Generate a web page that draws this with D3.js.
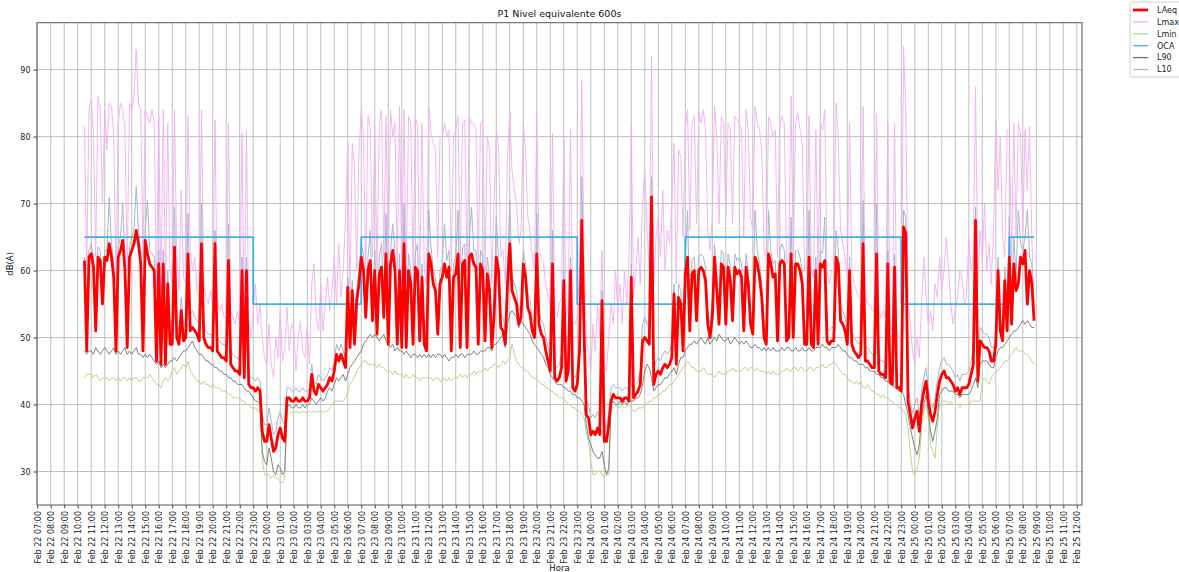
<!DOCTYPE html>
<html>
<head>
<meta charset="utf-8">
<script src="https://cdn.jsdelivr.net/npm/d3@7"></script>
<style>
  body { margin: 0; background: #fff; }
  svg { display: block; font-family: "DejaVu Sans", sans-serif; }
</style>
</head>
<body>
<svg id="chart" width="1179" height="572"></svg>
<script>
// 600 s samples, first one Feb 22 10:30, last one Feb 25 08:50
var startTime = "2019-02-22 10:30";

var laeq = [
  61.5, 48, 62,
  62.5, 60.5, 51, 62, 61.5, 55,  62, 61.5, 64, 62, 59, 48,
  62, 63, 64.5, 60, 48.5, 62,  63, 64, 66, 64, 61, 48,
  64.5, 62.5, 61, 60.5, 60, 46.5,  61, 46, 61, 46, 58, 49,
  49, 63.5, 50, 49, 54, 49.5,  50, 62.5, 51, 51.5, 51, 50.5,
  49.5, 64, 50, 49, 48.5, 48.5,  48, 64, 48, 47.5, 47, 47,
  46.5, 61.5, 46, 45.5, 45, 45,  44.5, 60, 44, 60, 43, 42.5,
  42.5, 42, 42.5, 42, 36, 34.5,
  34.5, 37, 35, 33, 33.5, 35.5,  36.5, 35, 34.5, 41, 41, 40.5,
  40.5, 41, 40.5, 40.5, 41, 40.5,  40.5, 41, 44.5, 42, 41.5, 43,
  42.5, 42, 42.5, 43, 44, 43.5,  45, 47.5, 46.5, 47.5, 46.5, 45.5,
  57.5, 48.5, 57, 49, 55.5, 58,  62, 60, 53, 60, 61.5, 52.5,
  60, 50.5, 59.5, 60.5, 53, 62.5,  49, 61, 63, 60, 49, 60,
  48.5, 64, 48.5, 60, 58, 49,  60.5, 60, 49.5, 59, 49, 48,
  62.5, 61, 58, 57, 50.5, 58,  59, 61, 59, 60.5, 48, 59,
  59.5, 62.5, 48.5, 61, 61.5, 48.5,  62, 62.5, 61, 60.5, 49, 61,
  60, 49.5, 59.5, 57, 48.5, 53,  62, 60, 51.5, 51, 49, 58,
  64, 57, 56, 55, 52, 53,  61, 59, 54.5, 53.5, 51, 50,
  62.5, 52, 50.5, 50, 48, 46.5,  45, 61, 44, 43.5, 44, 45.5,
  58.5, 43.5, 45, 60, 42.5, 42,  43, 48, 67.5, 51, 38.5, 38,
  35.5, 36, 35.5, 36.5, 35.5, 55.5,  34.5, 34.5, 37, 40.5, 41.5, 41,
  41, 41, 40.5, 41, 41, 40.5,  59, 41, 41.5, 42, 43, 49.5,
  50, 49.5, 49, 71, 43, 44.5,  45, 44.5, 45.5, 46, 45.5, 46,
  47, 56.5, 46, 56, 55, 48,  59.5, 62, 51, 59.5, 60, 52.5,
  60, 60.5, 60, 58.5, 52, 50,  53, 62, 57, 52, 61, 60.5,
  52, 60.5, 58.5, 52.5, 60.5, 59.5,  60, 59, 51, 60.5, 58, 52,
  50.5, 62, 61, 59, 56, 50,  49, 62.5, 61, 59, 59.5, 49.5,
  61, 61.5, 61, 49.5, 50, 62.5,  50, 61, 61, 60, 58, 49,
  49, 62, 49, 48.5, 60, 49,  61, 60.5, 61.5, 49.5, 49, 49.5,
  49.5, 62, 61, 52.5, 52, 51,  49, 60, 49, 48, 47.5, 47,
  47.5, 64, 46.5, 46.5, 46, 45.5,  45.5, 62.5, 45, 44.5, 44.5, 44,
  61, 43.5, 43, 60.5, 42.5, 42.5,  42, 66.5, 65.5, 40.5, 38.5, 36.5,
  38, 39, 36, 40, 42, 43.5,  40.5, 38.5, 37.5, 39, 41.5, 43.5,
  44.5, 45, 44, 44, 43.5, 43,  42, 42.5, 41.5, 42.5, 42.5, 42.5,
  43, 44.5, 46, 67.5, 43.5, 49.5,  49, 48.5, 48.5, 48, 46.5, 46.5,
  49, 60, 51, 49.5, 58.5, 51,  62, 52, 61, 57, 58, 62,
  61, 63, 55, 60, 58, 52.5
];

var lmax = [
  81.5, 60, 84,
  85.5, 80, 62, 86, 84, 70,  84, 78, 85, 84.5, 80, 58,
  82, 85, 84, 81, 60, 85,  84, 86, 93, 85, 84, 62,
  84, 83, 82, 84, 82, 57,  83, 56, 84, 57, 82, 60,
  58, 84, 62, 57, 72, 59,  58, 83, 63, 60, 62, 57,
  56, 84, 58, 56, 55, 57,  55, 82.5, 56, 54, 55, 53,
  53, 82, 54, 53, 52, 54,  52, 80.5, 51, 81, 52, 50,
  54, 58, 52, 55, 50, 47,
  46, 52, 46, 44, 50, 47,  54, 46.5, 48, 54.5, 48, 52,
  51, 45, 50, 52.5, 48, 47,  52, 46, 58, 61, 53, 51,
  58, 51, 55, 59, 54, 57,  62, 55, 64, 56, 60, 68,
  79, 56, 79, 75, 60, 78,  84, 80, 60, 83, 81.5, 62,
  81.5, 60, 82, 84, 62, 83,  60, 84, 80, 82, 60, 84.5,
  58, 84, 59, 83, 82, 60,  83, 81.5, 59, 82, 60, 58,
  84.5, 80.5, 79, 78, 62, 80,  80, 82, 80, 81, 60, 80,
  81, 83, 61, 82, 82.5, 60,  83, 82, 82, 81, 60, 82,
  82.5, 60, 80, 78, 58, 70,  81, 79, 62, 63, 58, 77,
  83.5, 75, 72, 70, 64, 66,  82, 78, 68, 66, 62, 60,
  83.5, 63, 62, 61, 58, 56,  55, 80.5, 54, 53, 55, 56,
  79.5, 53, 55, 81, 52, 52,  53, 60, 88.5, 62, 50, 48,
  45, 52, 48, 55, 50, 63,  46, 45, 50, 55, 52, 60,
  54, 58, 52, 60, 55, 62,  82, 56, 60, 65, 58, 70,
  75, 66, 60, 92, 58, 65,  68, 62, 72, 60, 66, 64,
  70, 79, 58, 78, 77, 65,  81, 84, 66, 82, 83, 67,
  83.5, 82, 84, 81, 66, 63,  68, 84.5, 80, 67, 83, 82,
  68, 82, 81, 67, 83, 82.5,  82, 81, 65, 84, 81, 68,
  66, 84.5, 82, 81, 78, 63,  62, 83, 82, 80, 81, 62,
  82, 83, 82, 61, 62, 86,  62, 82, 83.5, 81, 79, 60,
  60, 83, 60, 59, 81, 60,  82, 81, 84, 60, 58, 60,
  60, 85, 80, 66, 64, 62,  59, 82, 60, 58, 57, 56,
  56, 84.5, 56, 55, 55, 54,  54, 83.5, 54, 53, 54, 53,
  82, 52, 51, 82, 51, 50,  50, 93.5, 84, 56, 52, 48,
  46, 50, 47, 55, 62, 56,  52, 54, 51, 58, 56, 62,
  57, 60, 65, 60, 55, 52,  54, 56, 60, 59, 55, 56,
  65, 60, 62, 87.5, 58, 66,  62, 70, 60, 64, 58, 66,
  82.5, 72, 80, 65, 62, 81,  81, 62, 82, 65, 82, 80.5,
  66, 81, 72, 81.5, 65, 55
];

var lmin = [
  44, 44.5, 44.5,
  44.5, 44, 44.5, 44, 43.5, 44,  44, 44, 43.5, 44, 44, 43.5,
  44, 43.5, 44, 44, 43.5, 44,  43.5, 44, 44, 43.5, 43.5, 44,
  44, 44, 44.5, 44, 43.5, 43,  43, 42.5, 43.5, 44, 43.5, 44,
  45, 45.5, 44.5, 45, 45.5, 46,  45.5, 46.5, 45, 44.5, 44, 43.5,
  43.5, 43, 43.5, 43, 43, 42.5,  43, 42.5, 42.5, 42.5, 42, 42,
  42, 41.5, 41.5, 41, 41, 41,  41, 40.5, 40.5, 40, 40, 39.5,
  39.5, 39.5, 39, 39, 32, 29.5,
  29.5, 29.5, 29, 29.5, 29, 29,  28.5, 28.3, 29, 38.5, 38.7, 38.8,
  38.8, 39, 38.8, 38.8, 39, 38.8,  38.8, 39, 38.8, 39, 38.8, 39,
  39, 38.8, 39, 39, 39.5, 40,  40.5, 40.5, 40.5, 40.5, 40.5, 41,
  42, 43, 43.5, 44, 45, 45.5,  46, 46.5, 46.5, 46, 46, 46,
  46, 45.5, 46, 45.5, 45.5, 45,  45, 45, 44.5, 45, 44.5, 44.5,
  44.5, 44, 44.5, 44, 44, 44.5,  44, 44, 43.5, 44, 44, 44,
  44, 44, 43.5, 44, 44, 43.5,  43.5, 44, 43.5, 44, 43.5, 44,
  44, 44, 44.5, 44, 44.5, 44,  44.5, 44.5, 45, 44.5, 45, 45,
  45, 45.5, 45, 45.5, 45.5, 46,  46, 45.5, 46, 46.5, 46, 46.5,
  47, 49, 47.5, 46.5, 46, 45.5,  45.5, 45, 45, 44.5, 44, 44,
  43.5, 43.5, 43, 43, 42.5, 42.5,  42, 42, 41.5, 41.5, 41, 41,
  41, 40.5, 40, 40, 39.5, 39.5,  39, 39, 38.5, 38, 36, 34.5,
  31.5, 29.5, 29.5, 30, 30, 29.5,  29.2, 29.5, 29.5, 39.5, 39.5, 39.8,
  39.5, 39.5, 39.8, 39.5, 39.8, 40,  39.5, 39, 39, 39.5, 39.5, 39.5,
  40, 40, 40.5, 40.5, 41, 41,  41.5, 41.5, 42, 42, 42.5, 43,
  43, 43.5, 44, 44.5, 45, 45.5,  46, 46.5, 46, 45.5, 45.5, 45,
  45, 45, 45.5, 45, 44.5, 44.5,  44.5, 44, 44.5, 45, 44.5, 44.5,
  44.5, 45, 45, 45.5, 45, 45,  45, 45, 45.5, 45.5, 45, 45.5,
  45.5, 45, 45.5, 45, 45, 45,  44.5, 45, 44.5, 45, 44.5, 44.5,
  44.5, 45, 45, 45.5, 45, 45,  45.5, 45.5, 45, 45.5, 45.5, 45,
  45, 45.5, 45.5, 45, 45.5, 45.5,  45.5, 46, 45.5, 45.5, 46, 46,
  46.5, 46, 45.5, 45, 44.5, 44.5,  44, 43.5, 43.5, 43, 43.5, 43,
  43.5, 42.5, 42.5, 43, 42.5, 42,  42, 41.5, 41.5, 41, 41.5, 41,
  41, 40.5, 40.5, 40, 40, 39.5,  39.5, 39, 38.5, 36.5, 33, 30,
  29.5, 30.5, 32, 36.5, 39, 40,  38, 34, 33, 32, 36.5, 40,
  40.5, 40.5, 40.5, 40, 40.5, 40,  40, 40, 39.5, 40, 40, 40,
  40, 40.5, 40.5, 40.5, 40.5, 40.5,  43.5, 44, 43.5, 43, 44, 44.5,
  45, 45, 45.5, 46, 46.5, 46.5,  47, 47.5, 48, 48.5, 48, 48,
  48, 47.5, 47.5, 47, 46.5, 46
];

var l90 = [
  48, 47.5, 48,
  48, 47.5, 48.5, 48, 47.5, 48,  48.5, 48, 47.5, 48, 48.5, 47.5,
  48, 47.5, 48, 48.5, 47.5, 48,  47.5, 48, 48.5, 47.5, 47.5, 47,
  47.5, 47, 47.5, 47, 46.5, 46,  46.5, 45.5, 46, 45.5, 46, 46.5,
  46.5, 47, 46.5, 47, 47.5, 48,  48, 48.5, 49, 49.5, 48.5, 48,
  47.5, 47.5, 47, 46.5, 46.5, 46,  46, 45.5, 45.5, 45, 45, 44.5,
  44.5, 44, 44, 43.5, 43.5, 43,  43, 43, 42.5, 42, 42, 41.5,
  41, 40.5, 40.5, 40, 33, 31.5,
  31, 33.5, 32, 30, 29.5, 31,  30.5, 29.5, 30, 39.5, 40, 39.5,
  39.5, 40, 39.5, 39.5, 40, 39.5,  40, 40, 41, 40.5, 40, 40.5,
  41, 40.5, 41, 42, 42.5, 42,  43, 44, 43.5, 44, 44.5, 43.5,
  44.5, 45.5, 46, 46.5, 47, 47.5,  48, 49, 49.5, 50, 50.5, 50,
  50.5, 50, 49.5, 50, 50.5, 49.5,  49, 48.5, 49, 48, 48.5, 48,
  48, 47.5, 48, 47.5, 47, 47.5,  47.5, 47, 47.5, 47, 47.5, 47,
  47.5, 47, 47.5, 47, 47.5, 47.5,  47, 47.5, 47, 46.5, 47, 47,
  47.5, 47, 47.5, 47.5, 47, 47.5,  47.5, 47.5, 48, 47.5, 47.5, 48,
  48, 48, 48.5, 48.5, 48, 49,  49, 49.5, 50, 50.5, 48.5, 52,
  53.5, 54, 53.5, 53, 51.5, 52.5,  52, 51.5, 51, 50.5, 49.5, 49,
  48.5, 48, 47.5, 47, 46, 45.5,  44.5, 44, 43.5, 43, 43, 43,
  42.5, 42.5, 42, 42, 41.5, 41.5,  41, 41, 40.5, 40, 37, 35,
  34, 33, 32.5, 32, 32, 33,  31, 29.5, 30.5, 40, 40.5, 40,
  40, 40.5, 40, 40.5, 40, 40.5,  40.5, 40.5, 41, 41, 41.5, 43,
  45, 46, 45.5, 44, 42, 42.5,  43, 43, 43.5, 44, 44, 44.5,
  45, 45.5, 44.5, 46, 47, 47,  48, 48.5, 49, 49, 49.5, 49,
  49.5, 50, 49.5, 49, 50, 49,  49.5, 50, 49.5, 50.5, 50, 49.5,
  49.5, 50, 49, 49.5, 50, 49.5,  49, 49.5, 49, 49.5, 49, 48.5,
  48.5, 49, 48.5, 48.5, 48, 48.5,  48, 48.5, 48, 48.5, 48, 48,
  48, 48.5, 48, 48.5, 48.5, 48,  48, 48.5, 48, 48, 48.5, 48,
  48, 48.5, 48, 48, 48.5, 48.5,  48.5, 49, 48.5, 48.5, 48, 48.5,
  48.5, 48.5, 49, 48.5, 48, 48,  47.5, 47, 47, 46.5, 46.5, 46,
  46, 46, 45.5, 45.5, 45, 45,  45, 44.5, 44.5, 44, 44, 43.5,
  43.5, 43, 43, 42.5, 42.5, 42,  42, 41.5, 40, 38.5, 36.5, 35,
  33.5, 32.5, 34, 38, 40, 41.5,  39, 36, 34.5, 36, 38, 41.5,
  42, 42.5, 42.5, 42, 42, 42,  41.5, 41.5, 41, 41.5, 41.5, 41.5,
  41.5, 42, 43, 44, 42.5, 46,  46.5, 46.5, 46.5, 46, 45.5, 45.5,
  47, 48, 48.5, 48.5, 49, 49.5,  50, 50.5, 51, 51, 51.5, 52,
  52.5, 52, 52.5, 52, 51.5, 51.5
];

var l10 = [
  62, 52, 63,
  64, 62, 53, 63.5, 63, 57,  63, 63, 71, 64, 61, 51,
  63.5, 65, 70, 62, 51, 63.5,  65, 66, 72.5, 66, 63, 51,
  66, 70.5, 63, 62.5, 62, 49.5,  63, 49, 63, 49, 60, 51.5,
  51, 69.5, 52.5, 51, 56, 52,  52, 68.5, 53.5, 54, 53, 52.5,
  52, 70, 52.5, 51, 50.5, 50.5,  50, 66, 50, 49.5, 49, 49,
  48.5, 67, 48, 47.5, 47, 47,  46.5, 62, 46, 62, 44.5, 44,
  44, 43.5, 44, 43.5, 38.5, 37,
  37, 39.5, 37.5, 35.5, 36, 38,  39, 37.5, 37, 42.5, 42.5, 42,
  42, 42.5, 42, 42, 42.5, 42,  42, 42.5, 46, 43.5, 43, 44.5,
  44, 43.5, 44, 44.5, 45.5, 45,  46.5, 49, 48, 49, 48, 47,
  59, 50, 58.5, 51, 57.5, 60,  64, 62.5, 55, 62, 66, 54.5,
  63, 52.5, 62, 64, 55, 68.5,  51, 63, 67, 62.5, 51, 62.5,
  50.5, 70, 50.5, 62.5, 60, 51,  62.5, 64, 51.5, 61, 51, 50,
  69, 63.5, 60, 59, 52.5, 60,  61, 67, 61.5, 63, 50, 61,
  62, 69, 50.5, 63.5, 64, 50.5,  64.5, 69.5, 63, 63, 51, 63,
  62, 51.5, 62, 59, 50.5, 55,  68, 62, 53.5, 53, 51, 60,
  70.5, 59, 58, 57, 54, 55,  63, 61, 56.5, 55.5, 53, 52,
  68.5, 54, 52.5, 52, 50, 48.5,  47, 66, 46, 45.5, 46, 47.5,
  60, 45.5, 47, 62, 44.5, 44,  45, 50, 74, 53, 40.5, 40,
  38, 38.5, 38, 39, 38, 57,  37, 36.5, 39, 42.5, 43, 42.5,
  42.5, 42.5, 42, 42.5, 42.5, 42,  61, 42.5, 43, 43.5, 45, 52,
  53, 52, 51.5, 74, 45, 46.5,  47, 46.5, 47.5, 48, 47.5, 48,
  49, 58, 48, 58, 57, 50,  61.5, 69, 53, 61.5, 62, 54.5,
  62, 62.5, 62, 60.5, 54, 52,  55, 64, 59, 54, 63, 62.5,
  54, 62.5, 60.5, 54.5, 62.5, 61.5,  62, 61, 53, 62.5, 60, 54,
  52.5, 69, 63, 61, 58, 52,  51, 69, 63, 61, 61.5, 51.5,
  63, 64, 63, 51.5, 52, 68,  52, 63, 63, 62, 60, 51,
  51, 69, 51, 50.5, 62, 51,  63, 62.5, 68, 51.5, 51, 51.5,
  51.5, 66, 63, 54.5, 54, 53,  51, 62, 51, 50, 49.5, 49,
  49.5, 70.5, 48.5, 48.5, 48, 47.5,  47.5, 70, 47, 46.5, 46.5, 46,
  63, 45.5, 45, 62.5, 44.5, 44.5,  44, 69, 68, 42.5, 40.5, 38.5,
  40, 41, 38, 42, 44, 45.5,  42.5, 40.5, 39.5, 41, 43.5, 45.5,
  46.5, 47, 46, 46, 45.5, 45,  44, 44.5, 43.5, 44.5, 44.5, 44.5,
  45, 46.5, 48, 69.5, 45.5, 51.5,  51, 50.5, 50.5, 50, 48.5, 48.5,
  51, 62, 53, 51.5, 60.5, 53,  68, 54, 65, 59, 69, 64,
  63, 65, 69, 62, 61, 54.5
];

// OCA limit: level in force from each time on (day 65, night 55)
var ocaTimes = ["2019-02-22 10:30", "2019-02-22 23:00", "2019-02-23 07:00",
                "2019-02-23 23:00", "2019-02-24 07:00", "2019-02-24 23:00",
                "2019-02-25 07:00", "2019-02-25 08:50"];
var ocaValues = [65, 55, 65, 55, 65, 55, 65, 65];

var yTicks = [30, 40, 50, 60, 70, 80, 90];
var xRange = ["2019-02-22 06:59", "2019-02-25 12:23"];

///////////////////////////////////////////////////////////////////////////////

var parse = d3.timeParse("%Y-%m-%d %H:%M");
var t0 = parse(startTime);
var sampleTime = function (i) { return new Date(+t0 + i * 600000); };

var svg = d3.select("#chart");
var plotLeft = 37, plotRight = 1082, plotTop = 22.7, plotBottom = 505;

var x = d3.scaleTime().domain(xRange.map(parse)).range([plotLeft, plotRight]);
var y = d3.scaleLinear().domain([25, 97]).range([plotBottom, plotTop]);

var hours = d3.timeHour.range(parse("2019-02-22 07:00"), parse("2019-02-25 12:01"));

// grid
var grid = svg.append("g").attr("stroke", "#b0b0b0").attr("stroke-width", 0.8);
grid.selectAll("line.v").data(hours).enter().append("line")
  .attr("x1", function (d) { return x(d); }).attr("x2", function (d) { return x(d); })
  .attr("y1", plotTop).attr("y2", plotBottom);
grid.selectAll("line.h").data(yTicks).enter().append("line")
  .attr("x1", plotLeft).attr("x2", plotRight)
  .attr("y1", function (d) { return y(d); }).attr("y2", function (d) { return y(d); });

svg.append("clipPath").attr("id", "plot")
  .append("rect").attr("x", plotLeft).attr("y", plotTop)
  .attr("width", plotRight - plotLeft).attr("height", plotBottom - plotTop);

var series = [
  { name: "LAeq", values: laeq, color: "#ff0000", width: 2.8 },
  { name: "Lmax", values: lmax, color: "#f3aef1", width: 0.9 },
  { name: "Lmin", values: lmin, color: "#b4d88e", width: 1 },
  { name: "OCA", values: null, color: "#3aaff4", width: 1.8 },
  { name: "L90", values: l90, color: "#747474", width: 0.9 },
  { name: "L10", values: l10, color: "#a9b5c9", width: 1 }
];

var line = d3.line()
  .x(function (d, i) { return x(sampleTime(i)); })
  .y(function (d) { return y(d); });

var ocaLine = d3.line()
  .curve(d3.curveStepAfter)
  .x(function (d, i) { return x(parse(ocaTimes[i])); })
  .y(function (d) { return y(d); });

var plot = svg.append("g").attr("clip-path", "url(#plot)");
var drawOrder = ["Lmax", "Lmin", "L10", "L90", "OCA", "LAeq"];
drawOrder.forEach(function (name) {
  var s = series.filter(function (d) { return d.name === name; })[0];
  plot.append("path")
    .attr("d", s.values ? line(s.values) : ocaLine(ocaValues))
    .attr("fill", "none")
    .attr("stroke", s.color)
    .attr("stroke-width", s.width)
    .attr("stroke-linejoin", "round");
});

// frame
svg.append("rect")
  .attr("x", plotLeft).attr("y", plotTop)
  .attr("width", plotRight - plotLeft).attr("height", plotBottom - plotTop)
  .attr("fill", "none").attr("stroke", "#555").attr("stroke-width", 1);

// axes
var xAxis = svg.append("g")
  .attr("transform", "translate(0," + plotBottom + ")")
  .call(d3.axisBottom(x).tickValues(hours)
    .tickFormat(d3.timeFormat("%b %d %H:%M")).tickSize(3.5).tickPadding(2));
xAxis.select(".domain").remove();
xAxis.selectAll("line").attr("stroke", "#444");
xAxis.selectAll("text")
  .attr("transform", "rotate(-90)")
  .attr("text-anchor", "end")
  .attr("x", -6).attr("y", 0).attr("dy", "0.35em")
  .attr("font-size", 8).attr("fill", "#222")
  .attr("font-family", "DejaVu Sans");

var yAxis = svg.append("g")
  .attr("transform", "translate(" + plotLeft + ",0)")
  .call(d3.axisLeft(y).tickValues(yTicks).tickSize(3.5).tickPadding(3));
yAxis.select(".domain").remove();
yAxis.selectAll("line").attr("stroke", "#444");
yAxis.selectAll("text").attr("font-size", 8).attr("fill", "#222")
  .attr("font-family", "DejaVu Sans");

// titles
svg.append("text").attr("x", (plotLeft + plotRight) / 2).attr("y", 17)
  .attr("text-anchor", "middle").attr("font-size", 9.5).attr("fill", "#111")
  .text("P1 Nivel equivalente 600s");
svg.append("text").attr("transform", "translate(13," + ((plotTop + plotBottom) / 2) + ") rotate(-90)")
  .attr("text-anchor", "middle").attr("font-size", 8.5).attr("fill", "#111")
  .text("dB(A)");
svg.append("text").attr("x", (plotLeft + plotRight) / 2).attr("y", 571)
  .attr("text-anchor", "middle").attr("font-size", 8.5).attr("fill", "#111")
  .text("Hora");

// legend, cut by the right border like the original
var legend = svg.append("g").attr("transform", "translate(1130,2)");
legend.append("rect").attr("width", 70).attr("height", 75).attr("rx", 2)
  .attr("fill", "#fff").attr("stroke", "#d0d0d0");
series.forEach(function (s, i) {
  var ly = 8 + i * 11.9;
  legend.append("line").attr("x1", 3).attr("x2", 18).attr("y1", ly).attr("y2", ly)
    .attr("stroke", s.color).attr("stroke-width", s.name === "LAeq" ? 2.8 : 1.3);
  legend.append("text").attr("x", 27).attr("y", ly).attr("dy", "0.35em")
    .attr("font-size", 8).attr("fill", "#222").text(s.name);
});
</script>
</body>
</html>
